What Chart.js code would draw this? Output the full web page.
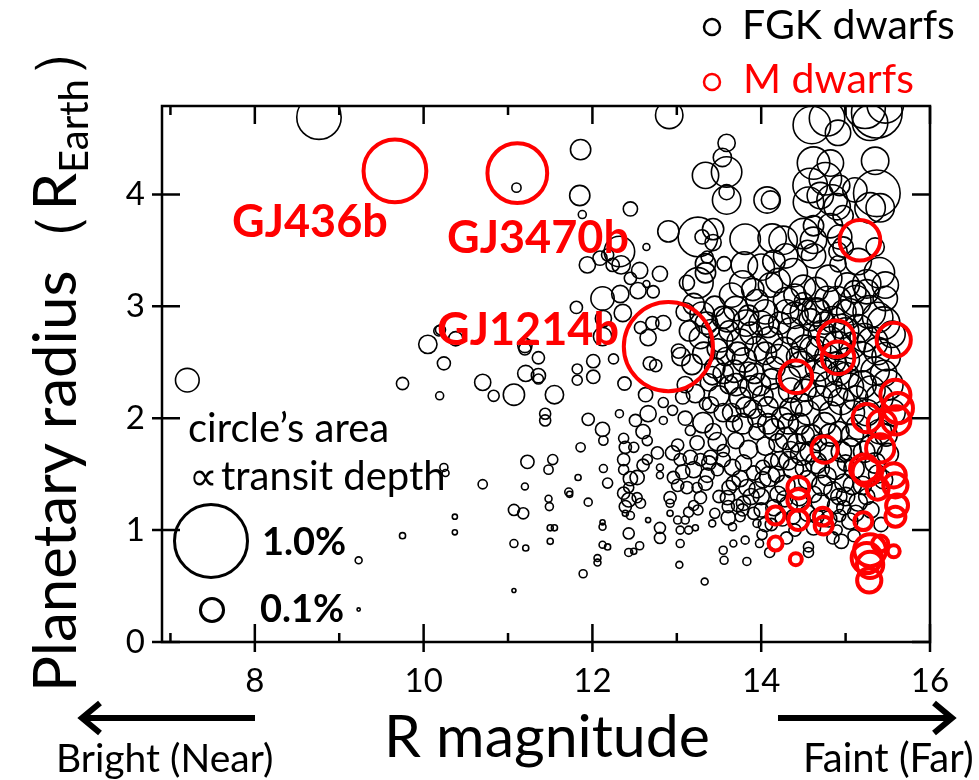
<!DOCTYPE html>
<html>
<head>
<meta charset="utf-8">
<script src="https://cdn.jsdelivr.net/npm/chart.js@4/dist/chart.umd.min.js"></script>
<style>
  body { margin: 0; background: #fff; }
  #wrap { position: relative; width: 979px; height: 780px; }
  #wrap canvas, #wrap svg { position: absolute; left: 0; top: 0; }
  svg text { font-family: Lato, "Noto Sans", sans-serif; }
</style>
</head>
<body>
<div id="wrap">
  <canvas id="chart" width="979" height="780"></canvas>
  <svg width="979" height="780" viewBox="0 0 979 780">
    <!-- series key -->
    <circle cx="712" cy="27" r="8" fill="none" stroke="#000" stroke-width="2.5"/>
    <text x="742" y="39" font-size="41">FGK dwarfs</text>
    <circle cx="712" cy="82" r="8" fill="none" stroke="#ff0000" stroke-width="2.5"/>
    <text x="743" y="93" font-size="41" fill="#ff0000">M dwarfs</text>

    <!-- planet names -->
    <text x="232" y="237" font-size="45" font-weight="bold" fill="#ff0000">GJ436b</text>
    <text x="447" y="253" font-size="45" font-weight="bold" fill="#ff0000">GJ3470b</text>
    <text x="437" y="345" font-size="45" font-weight="bold" fill="#ff0000">GJ1214b</text>

    <!-- size key text -->
    <text x="188" y="442" font-size="40">circle’s area</text>
    <text x="189" y="490" font-size="40">∝<tspan dx="3">transit depth</tspan></text>
    <text x="262" y="555" font-size="38" font-weight="bold">1.0%</text>
    <text x="260" y="622" font-size="38" font-weight="bold">0.1%</text>

    <!-- axis titles -->
    <text transform="translate(76,692) rotate(-90)" font-size="60">Planetary radius（R<tspan dy="12" font-size="40">Earth</tspan><tspan dy="-12">）</tspan></text>
    <text x="547" y="757" font-size="59" text-anchor="middle">R magnitude</text>

    <!-- direction arrows -->
    <g stroke="#000" stroke-width="6" fill="none" stroke-linecap="butt">
      <line x1="255" y1="718" x2="82" y2="718"/>
      <polyline points="100,703 82,718 100,733"/>
      <line x1="778" y1="718" x2="952" y2="718"/>
      <polyline points="934,703 952,718 934,733"/>
    </g>
    <text x="56" y="772" font-size="39">Bright (Near)</text>
    <text x="803" y="772" font-size="40">Faint (Far)</text>
  </svg>
</div>

<script>
// axis ticks
const xTickValues = [8, 10, 12, 14, 16];
const xMinorValues = [7, 9, 11, 13, 15];
const yTickValues = [0, 1, 2, 3, 4];

// M dwarf hosts: [R magnitude, planet radius (R_Earth), transit depth (%)]
const mDwarfs = [
  [9.66, 4.21, 0.74], [11.11, 4.19, 0.67], [12.90, 2.64, 1.49],
  [15.17, 3.59, 0.31], [14.89, 2.71, 0.25], [14.91, 2.54, 0.20], [15.57, 2.70, 0.22],
  [14.41, 2.37, 0.20], [15.59, 2.21, 0.17], [15.62, 2.09, 0.17], [15.60, 1.98, 0.15],
  [15.25, 2.00, 0.15], [15.43, 1.95, 0.15], [15.41, 1.73, 0.15], [14.75, 1.72, 0.13],
  [15.22, 1.55, 0.15], [15.25, 1.52, 0.15], [15.57, 1.49, 0.11], [15.59, 1.40, 0.11],
  [15.38, 1.37, 0.09], [15.61, 1.22, 0.09], [15.59, 1.12, 0.075], [14.44, 1.38, 0.09],
  [14.44, 1.27, 0.09], [14.44, 1.09, 0.075], [14.73, 1.12, 0.06], [14.74, 1.04, 0.06],
  [14.17, 1.13, 0.06], [14.17, 0.88, 0.037], [14.41, 0.74, 0.027], [15.21, 1.08, 0.06],
  [15.29, 0.82, 0.19], [15.25, 0.75, 0.17], [15.29, 0.69, 0.13], [15.28, 0.55, 0.11],
  [15.41, 0.88, 0.048], [15.57, 0.81, 0.027]
];

// FGK dwarf hosts, brighter / sparse part
const fgkBright = [
  [8.76, 4.69, 0.37], [7.20, 2.34, 0.105], [10.05, 2.66, 0.063], [10.24, 2.49, 0.032],
  [10.18, 2.78, 0.019], [9.75, 2.31, 0.028], [10.19, 2.20, 0.012], [10.24, 1.56, 0.012],
  [10.26, 1.51, 0.009], [9.75, 0.95, 0.007], [9.23, 0.73, 0.009], [9.23, 0.29, 0.002],
  [10.83, 2.20, 0.023], [11.07, 2.21, 0.085], [11.55, 2.21, 0.063], [10.70, 2.32, 0.049],
  [11.44, 2.04, 0.023], [11.44, 1.98, 0.023], [11.95, 1.99, 0.028], [12.12, 1.90, 0.038],
  [12.13, 1.80, 0.016], [11.86, 1.74, 0.016], [12.32, 2.04, 0.012], [12.51, 1.98, 0.028],
  [12.66, 2.04, 0.049], [12.60, 1.88, 0.038], [12.65, 1.80, 0.019], [11.23, 1.61, 0.033],
  [11.53, 1.63, 0.019], [11.48, 1.54, 0.016], [10.70, 1.41, 0.016], [11.20, 1.39, 0.009],
  [11.83, 1.47, 0.007], [12.13, 1.55, 0.012], [12.18, 1.42, 0.019], [11.72, 1.34, 0.012],
  [11.73, 1.32, 0.007], [11.48, 1.28, 0.009], [11.49, 1.21, 0.012], [11.95, 1.25, 0.012],
  [11.07, 1.18, 0.023], [11.18, 1.15, 0.023], [10.37, 1.12, 0.005], [10.37, 0.98, 0.005],
  [11.50, 1.02, 0.007], [11.55, 1.02, 0.007], [11.50, 0.90, 0.007], [11.07, 0.88, 0.012],
  [11.21, 0.84, 0.007], [12.12, 1.03, 0.009], [12.12, 1.07, 0.005], [12.12, 0.87, 0.009],
  [12.18, 0.85, 0.007], [12.06, 0.75, 0.009], [12.06, 0.71, 0.009], [11.89, 0.61, 0.012],
  [11.07, 0.46, 0.003], [12.43, 0.97, 0.023], [12.43, 0.80, 0.012], [12.49, 0.81, 0.007],
  [12.56, 0.86, 0.012], [12.66, 1.09, 0.005], [12.80, 1.02, 0.023], [12.80, 0.93, 0.023],
  [12.80, 1.56, 0.009], [12.80, 1.49, 0.009], [12.53, 1.47, 0.038], [12.57, 1.24, 0.019],
  [12.63, 2.21, 0.038], [12.84, 2.14, 0.019], [12.95, 2.07, 0.019], [12.84, 1.98, 0.012],
  [12.37, 1.82, 0.019], [12.39, 1.74, 0.028], [12.49, 1.74, 0.019], [12.37, 1.63, 0.028],
  [12.37, 1.54, 0.019], [12.45, 1.46, 0.038], [12.60, 1.58, 0.028], [12.65, 1.63, 0.019],
  [12.43, 1.38, 0.019], [12.37, 1.33, 0.028], [12.43, 1.27, 0.038], [12.53, 1.29, 0.019],
  [12.39, 1.21, 0.028], [12.45, 1.13, 0.012], [12.39, 1.15, 0.007], [12.77, 1.69, 0.028],
  [12.92, 1.29, 0.028], [12.92, 1.24, 0.012], [12.92, 1.15, 0.007], [12.96, 1.47, 0.028]
];

// FGK dwarf hosts, upper part (large radii)
const fgkUpper = [
  [11.86, 4.40, 0.077], [11.85, 3.99, 0.077], [11.88, 3.82, 0.012], [12.45, 3.87, 0.038],
  [11.10, 4.06, 0.016], [12.90, 3.67, 0.085], [12.64, 3.53, 0.009], [12.32, 3.49, 0.174],
  [11.94, 3.37, 0.049], [12.09, 3.43, 0.038], [12.18, 3.46, 0.028], [12.24, 3.37, 0.033],
  [12.34, 3.37, 0.063], [12.45, 3.25, 0.028], [12.56, 3.32, 0.049], [12.54, 3.14, 0.049],
  [12.64, 3.20, 0.009], [12.80, 3.29, 0.043], [12.12, 3.07, 0.102], [12.33, 3.11, 0.056],
  [12.36, 2.94, 0.056], [12.13, 2.89, 0.049], [11.81, 2.99, 0.028], [12.12, 2.73, 0.063],
  [10.20, 2.79, 0.019], [10.38, 2.71, 0.038], [11.20, 2.65, 0.038], [11.20, 2.62, 0.028],
  [11.36, 2.54, 0.028], [11.21, 2.40, 0.049], [11.36, 2.38, 0.038], [11.36, 2.35, 0.019],
  [11.82, 2.44, 0.019], [11.82, 2.34, 0.019], [12.01, 2.51, 0.033], [12.01, 2.37, 0.033],
  [12.25, 2.53, 0.019], [12.38, 2.31, 0.033], [12.91, 4.71, 0.141], [13.59, 4.46, 0.056],
  [13.54, 4.33, 0.063], [13.34, 4.17, 0.130], [13.59, 4.20, 0.174], [13.59, 4.02, 0.043],
  [13.59, 3.95, 0.151], [13.25, 3.62, 0.293], [13.43, 3.69, 0.085], [13.30, 3.62, 0.038],
  [13.43, 3.57, 0.049], [13.81, 3.60, 0.174], [14.07, 3.95, 0.130], [13.34, 3.38, 0.077],
  [13.34, 3.30, 0.077], [13.36, 3.44, 0.028], [13.56, 3.38, 0.038], [13.80, 3.37, 0.130],
  [13.78, 3.20, 0.130], [13.25, 3.21, 0.174], [13.12, 3.21, 0.043], [12.72, 3.13, 0.028],
  [12.84, 2.85, 0.043], [12.71, 2.85, 0.033], [12.57, 2.81, 0.028], [12.66, 2.72, 0.049],
  [13.02, 2.60, 0.038], [12.75, 2.47, 0.028], [12.68, 2.49, 0.033], [14.13, 3.61, 0.151],
  [14.60, 4.62, 0.264], [14.78, 4.68, 0.236], [14.91, 4.55, 0.121], [15.29, 4.64, 0.236],
  [15.37, 4.73, 0.482], [15.23, 4.77, 0.309], [15.47, 4.80, 0.250], [14.62, 4.28, 0.198],
  [14.82, 4.28, 0.130], [15.35, 4.30, 0.141], [14.58, 4.08, 0.223], [14.76, 4.14, 0.198],
  [14.93, 4.08, 0.077], [15.11, 4.04, 0.111], [15.37, 4.01, 0.408], [14.70, 3.99, 0.130],
  [14.84, 3.95, 0.174], [14.56, 3.93, 0.174], [14.90, 3.89, 0.130], [15.29, 3.88, 0.174],
  [15.41, 3.88, 0.151], [14.97, 3.81, 0.077], [14.82, 3.72, 0.111], [14.11, 3.95, 0.063],
  [14.62, 3.72, 0.077], [14.50, 3.65, 0.174], [14.62, 3.59, 0.130], [14.26, 3.59, 0.151],
  [14.93, 3.62, 0.111], [14.97, 3.53, 0.077], [15.35, 3.53, 0.063], [14.29, 3.45, 0.111],
  [14.55, 3.50, 0.077], [14.62, 3.45, 0.111], [14.91, 3.49, 0.063], [14.91, 3.38, 0.049],
  [14.20, 3.23, 0.111], [14.50, 3.17, 0.111], [15.02, 3.19, 0.111], [15.11, 3.13, 0.093],
  [15.25, 3.13, 0.111], [15.47, 3.19, 0.130], [15.47, 3.07, 0.111], [14.11, 3.19, 0.111],
  [14.50, 3.04, 0.063], [14.78, 3.07, 0.111], [14.66, 2.96, 0.111], [14.00, 3.35, 0.130],
  [14.15, 3.40, 0.093], [14.38, 3.30, 0.151], [13.90, 3.15, 0.093], [14.30, 3.05, 0.130],
  [13.65, 3.10, 0.111]
];

// FGK dwarf hosts, crowded middle (R ~ 13-14)
const fgkCoreMid = [
  [13.10, 2.95, 0.063], [13.20, 3.02, 0.085], [13.30, 2.93, 0.111], [13.45, 3.00, 0.077],
  [13.55, 2.90, 0.093], [13.70, 2.98, 0.111], [13.85, 2.92, 0.077], [13.95, 3.05, 0.093],
  [13.15, 2.78, 0.077], [13.28, 2.72, 0.093], [13.40, 2.80, 0.063], [13.52, 2.70, 0.111],
  [13.62, 2.78, 0.077], [13.75, 2.68, 0.130], [13.88, 2.76, 0.093], [14.00, 2.85, 0.111],
  [13.05, 2.55, 0.063], [13.18, 2.48, 0.077], [13.32, 2.58, 0.093], [13.45, 2.45, 0.077],
  [13.58, 2.55, 0.063], [13.68, 2.42, 0.093], [13.80, 2.52, 0.111], [13.92, 2.40, 0.077],
  [14.05, 2.58, 0.093], [13.10, 2.30, 0.049], [13.22, 2.22, 0.063], [13.38, 2.32, 0.056],
  [13.50, 2.20, 0.077], [13.62, 2.30, 0.063], [13.75, 2.18, 0.085], [13.88, 2.28, 0.093],
  [14.02, 2.20, 0.077], [13.07, 2.19, 0.038], [13.10, 2.00, 0.038], [13.31, 1.96, 0.077],
  [13.34, 2.13, 0.028], [13.16, 1.89, 0.019], [13.43, 1.88, 0.049], [13.48, 1.79, 0.063],
  [13.24, 1.78, 0.038], [13.01, 1.76, 0.028], [12.95, 1.69, 0.038], [13.04, 1.63, 0.028],
  [13.16, 1.65, 0.038], [13.28, 1.63, 0.028], [13.40, 1.65, 0.038], [13.55, 1.71, 0.028],
  [13.55, 1.63, 0.038], [13.48, 1.54, 0.028], [13.36, 1.49, 0.038], [13.20, 1.54, 0.049],
  [13.07, 1.52, 0.038], [13.01, 1.40, 0.028], [13.12, 1.38, 0.028], [13.24, 1.38, 0.019],
  [13.34, 1.42, 0.038], [13.28, 1.29, 0.028], [13.20, 1.22, 0.019], [13.25, 1.18, 0.019],
  [13.14, 1.16, 0.019], [13.10, 1.09, 0.012], [13.04, 1.00, 0.012], [13.14, 1.00, 0.012],
  [13.22, 1.02, 0.007], [13.01, 1.09, 0.012], [13.04, 0.88, 0.012], [13.03, 0.69, 0.009],
  [13.33, 0.54, 0.009], [13.42, 1.06, 0.009], [13.55, 0.82, 0.012], [13.56, 0.73, 0.012],
  [13.61, 1.11, 0.038], [13.61, 1.21, 0.028], [13.66, 1.03, 0.012], [13.67, 0.88, 0.009],
  [13.81, 0.91, 0.012], [13.83, 0.72, 0.012], [13.79, 1.24, 0.038], [13.78, 1.18, 0.028],
  [13.75, 1.12, 0.019], [13.91, 1.15, 0.028], [13.95, 1.06, 0.012], [14.01, 0.96, 0.019],
  [14.02, 1.45, 0.049], [13.95, 1.36, 0.049], [13.83, 1.38, 0.049], [13.75, 1.46, 0.049],
  [13.67, 1.42, 0.038], [13.60, 1.29, 0.038], [13.66, 1.56, 0.049], [13.79, 1.60, 0.049],
  [13.91, 1.51, 0.038], [14.02, 1.56, 0.038], [13.65, 2.05, 0.063], [13.78, 1.95, 0.077],
  [13.90, 2.08, 0.063], [13.70, 1.80, 0.049], [13.85, 1.72, 0.063], [13.95, 1.88, 0.049],
  [13.35, 2.85, 0.093], [13.48, 2.62, 0.077], [13.60, 2.88, 0.111], [13.72, 2.58, 0.093],
  [13.82, 2.85, 0.130], [13.95, 2.62, 0.111], [13.42, 2.38, 0.063], [13.55, 2.40, 0.077],
  [13.70, 2.30, 0.093], [13.85, 2.42, 0.063], [13.98, 2.30, 0.093], [13.40, 2.12, 0.049],
  [13.55, 2.05, 0.063], [13.68, 1.95, 0.049], [13.82, 2.10, 0.077], [13.95, 2.00, 0.063],
  [13.62, 1.38, 0.038], [13.72, 1.22, 0.028], [13.88, 1.30, 0.049], [13.50, 1.30, 0.028],
  [13.45, 1.15, 0.019], [13.38, 1.60, 0.038]
];

// FGK dwarf hosts, crowded faint end (R ~ 14-15.6)
const fgkCoreFaint = [
  [14.05, 1.05, 0.038], [14.15, 1.20, 0.049], [14.25, 1.10, 0.038], [14.32, 1.22, 0.063],
  [14.40, 1.00, 0.028], [14.55, 1.15, 0.049], [14.62, 1.02, 0.038], [14.70, 1.25, 0.063],
  [14.80, 1.10, 0.049], [14.93, 1.13, 0.028], [14.98, 1.20, 0.038], [15.05, 1.08, 0.049],
  [15.15, 1.25, 0.063], [15.30, 1.18, 0.049], [15.42, 1.05, 0.038], [14.56, 0.85, 0.019],
  [14.56, 0.80, 0.019], [14.85, 0.93, 0.028], [14.90, 1.00, 0.019], [14.10, 0.80, 0.019],
  [14.30, 0.93, 0.028], [14.95, 0.90, 0.038], [15.10, 0.95, 0.028], [13.98, 0.88, 0.012],
  [14.20, 1.32, 0.049], [14.45, 1.30, 0.063], [14.85, 1.35, 0.063],
  [14.05, 1.75, 0.063], [14.10, 1.48, 0.077], [14.15, 1.90, 0.085], [14.22, 1.62, 0.063],
  [14.28, 1.40, 0.077], [14.30, 1.82, 0.093], [14.38, 1.55, 0.077], [14.45, 1.95, 0.085],
  [14.48, 1.68, 0.093], [14.55, 1.45, 0.063], [14.60, 1.85, 0.077], [14.65, 1.60, 0.085],
  [14.72, 1.40, 0.077], [14.75, 1.95, 0.093], [14.80, 1.70, 0.063], [14.88, 1.55, 0.085],
  [14.92, 1.88, 0.077], [14.98, 1.42, 0.063], [15.05, 1.72, 0.093], [15.10, 1.55, 0.077],
  [15.15, 1.92, 0.111], [15.20, 1.40, 0.063], [15.30, 1.75, 0.093], [15.35, 1.60, 0.077],
  [15.40, 1.88, 0.111], [15.45, 1.45, 0.063], [15.50, 1.68, 0.085], [14.00, 1.30, 0.049],
  [14.35, 1.72, 0.049], [14.68, 1.78, 0.049], [15.00, 1.60, 0.049], [14.12, 1.62, 0.038],
  [14.52, 1.85, 0.063],
  [14.05, 2.95, 0.111], [14.10, 2.70, 0.130], [14.15, 2.45, 0.093], [14.18, 2.20, 0.111],
  [14.22, 2.85, 0.093], [14.28, 2.60, 0.141], [14.32, 2.35, 0.111], [14.35, 2.08, 0.093],
  [14.40, 2.92, 0.130], [14.45, 2.72, 0.111], [14.48, 2.48, 0.130], [14.52, 2.25, 0.093],
  [14.55, 2.05, 0.111], [14.58, 2.88, 0.093], [14.60, 2.62, 0.111], [14.08, 2.10, 0.077],
  [14.25, 2.00, 0.085], [14.42, 2.55, 0.077],
  [14.65, 2.95, 0.151], [14.68, 2.45, 0.130], [14.70, 2.18, 0.111], [14.72, 2.75, 0.141],
  [14.78, 2.55, 0.111], [14.80, 2.30, 0.130], [14.82, 2.05, 0.093], [14.85, 2.88, 0.130],
  [14.90, 2.65, 0.151], [14.92, 2.40, 0.111], [14.95, 2.15, 0.130], [14.98, 2.95, 0.111],
  [15.00, 2.78, 0.130], [15.02, 2.52, 0.111], [15.05, 2.28, 0.141], [15.08, 2.05, 0.111],
  [14.88, 2.50, 0.077], [14.75, 2.85, 0.093],
  [15.12, 3.05, 0.174], [15.15, 2.80, 0.151], [15.18, 2.55, 0.174], [15.20, 2.30, 0.141],
  [15.25, 2.05, 0.130], [15.28, 2.95, 0.198], [15.32, 2.68, 0.174], [15.35, 2.42, 0.151],
  [15.40, 2.18, 0.141], [15.45, 2.85, 0.198], [15.48, 2.55, 0.151], [15.50, 2.30, 0.174],
  [15.55, 2.05, 0.130], [15.55, 2.75, 0.130], [15.25, 3.20, 0.151], [15.40, 3.30, 0.174],
  [15.15, 3.40, 0.130],
  [14.08, 2.82, 0.093], [14.12, 2.35, 0.077], [14.08, 1.95, 0.077], [14.20, 1.78, 0.063],
  [14.32, 1.95, 0.077], [14.42, 1.78, 0.063], [14.58, 1.70, 0.077], [14.70, 1.55, 0.063],
  [14.82, 1.85, 0.093], [14.95, 1.70, 0.077], [15.08, 1.85, 0.093], [15.22, 1.70, 0.085],
  [15.38, 1.50, 0.063], [15.48, 1.85, 0.093], [14.18, 1.50, 0.049], [14.32, 1.62, 0.063],
  [14.50, 1.55, 0.049], [14.62, 1.32, 0.049], [14.78, 1.48, 0.063], [14.92, 1.30, 0.049],
  [15.08, 1.40, 0.063], [15.12, 1.15, 0.049], [14.35, 2.25, 0.111], [14.48, 2.12, 0.093],
  [14.62, 2.30, 0.111], [14.75, 2.40, 0.130], [14.88, 2.22, 0.111], [15.00, 2.38, 0.130],
  [15.12, 2.18, 0.111], [15.30, 2.25, 0.151], [15.45, 2.40, 0.130], [14.20, 2.55, 0.111],
  [14.35, 2.78, 0.130], [14.52, 2.62, 0.141], [14.68, 2.62, 0.111], [14.82, 2.70, 0.130],
  [14.95, 2.82, 0.111], [15.08, 2.65, 0.130], [15.22, 2.72, 0.151], [15.38, 2.60, 0.141],
  [15.38, 2.90, 0.174], [14.30, 2.95, 0.111], [14.50, 2.95, 0.130], [14.90, 3.05, 0.151],
  [15.05, 2.95, 0.130], [14.65, 3.15, 0.111], [14.80, 3.25, 0.130], [14.40, 3.10, 0.093],
  [14.00, 1.18, 0.038], [14.12, 1.05, 0.028], [14.28, 1.28, 0.049], [14.38, 1.12, 0.038],
  [14.66, 1.12, 0.038], [14.88, 1.22, 0.049], [15.00, 1.30, 0.063], [15.25, 1.30, 0.049]
];

// size key: circle area proportional to transit depth
const keyDepths = [1.0, 0.1];
const PX_PER_SQRT_PCT = 36.5;
const depthToRadius = d => PX_PER_SQRT_PCT * Math.sqrt(d);

const toPoints = rows => rows.map(([mag, rad, depth]) => ({ x: mag, y: rad, r: depthToRadius(depth) }));
const fgkAll = [...fgkBright, ...fgkUpper, ...fgkCoreMid, ...fgkCoreFaint];

// frame, inward ticks and the depth key circles
const frameAndKey = {
  id: 'frameAndKey',
  afterDraw(chart) {
    const { ctx, chartArea: a, scales: { x, y } } = chart;
    ctx.save();
    ctx.strokeStyle = '#000';
    ctx.lineWidth = 2.5;
    ctx.strokeRect(a.left, a.top, a.right - a.left, a.bottom - a.top);

    ctx.beginPath();
    xTickValues.forEach(v => {
      const px = x.getPixelForValue(v);
      ctx.moveTo(px, a.bottom + 10); ctx.lineTo(px, a.bottom - 18);
      ctx.moveTo(px, a.top); ctx.lineTo(px, a.top + 18);
    });
    xMinorValues.forEach(v => {
      const px = x.getPixelForValue(v);
      ctx.moveTo(px, a.bottom); ctx.lineTo(px, a.bottom - 9);
      ctx.moveTo(px, a.top); ctx.lineTo(px, a.top + 9);
    });
    yTickValues.forEach(v => {
      const py = y.getPixelForValue(v);
      ctx.moveTo(a.left - 10, py); ctx.lineTo(a.left + 18, py);
      ctx.moveTo(a.right - 18, py); ctx.lineTo(a.right, py);
    });
    ctx.stroke();

    // depth key
    ctx.lineWidth = 3;
    [[211, 541], [212, 610]].forEach(([cx, cy], i) => {
      ctx.beginPath();
      ctx.arc(cx, cy, depthToRadius(keyDepths[i]), 0, Math.PI * 2);
      ctx.stroke();
    });
    ctx.restore();
  }
};

const tickFont = { family: 'Lato, "Noto Sans", sans-serif', size: 33 };

new Chart(document.getElementById('chart'), {
  type: 'bubble',
  data: {
    datasets: [
      {
        label: 'M dwarfs',
        data: toPoints(mDwarfs),
        borderColor: '#ff0000',
        backgroundColor: 'rgba(0,0,0,0)',
        borderWidth: 4,
        order: 0,
        clip: 0
      },
      {
        label: 'FGK dwarfs',
        data: toPoints(fgkAll),
        borderColor: '#000000',
        backgroundColor: 'rgba(0,0,0,0)',
        borderWidth: 1.6,
        order: 1,
        clip: 0
      }
    ]
  },
  options: {
    responsive: false,
    animation: false,
    events: [],
    devicePixelRatio: 1,
    layout: { padding: { left: 0, top: 106, right: 49, bottom: 0 } },
    plugins: { legend: { display: false }, tooltip: { enabled: false } },
    scales: {
      x: {
        type: 'linear',
        min: 6.9,
        max: 16,
        afterFit: s => { s.height = 138; },
        afterBuildTicks: s => { s.ticks = xTickValues.map(v => ({ value: v })); },
        grid: { display: false, drawTicks: false },
        border: { display: false },
        ticks: { color: '#000', font: tickFont, padding: 20, maxRotation: 0, autoSkip: false }
      },
      y: {
        type: 'linear',
        min: 0,
        max: 4.79,
        afterFit: s => { s.width = 162; },
        afterBuildTicks: s => { s.ticks = yTickValues.map(v => ({ value: v })); },
        grid: { display: false, drawTicks: false },
        border: { display: false },
        ticks: { color: '#000', font: tickFont, padding: 17, autoSkip: false }
      }
    }
  },
  plugins: [frameAndKey]
});
</script>
</body>
</html>
